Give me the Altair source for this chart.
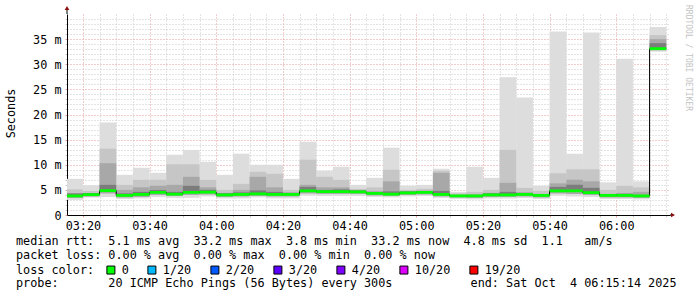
import altair as alt
import pandas as pd

MONO = "DejaVu Sans Mono"
FS = 11.8

# start of each 5-minute step, minutes after midnight (03:15 ... 06:10)
starts = [195, 200, 205, 210, 215, 220, 225, 230, 235, 240, 245, 250,
          255, 260, 265, 270, 275, 280, 285, 290, 295, 300, 305, 310,
          315, 320, 325, 330, 335, 340, 345, 350, 355, 360, 365, 370]
# median rtt per step (ms)
median = [3.8, 4.05, 4.85, 3.9, 4.1, 4.5, 4.15, 4.5, 4.55, 4.0, 4.1, 4.2,
          4.1, 4.1, 4.8, 4.65, 4.65, 4.6, 4.3, 4.15, 4.4, 4.5, 4.1, 3.8,
          3.8, 4.0, 4.0, 4.1, 3.9, 4.8, 4.8, 4.45, 3.9, 3.9, 3.8, 33.1]
# smoke extents (ms)
smoke_min = [3.0, 3.5, 3.6, 3.2, 3.3, 3.6, 3.4, 3.4, 3.7, 3.3, 3.3, 3.5,
             3.3, 3.3, 3.9, 3.8, 3.8, 3.8, 3.6, 3.5, 3.7, 3.8, 3.4, 3.2,
             3.1, 3.3, 3.3, 3.4, 3.2, 3.9, 3.7, 3.6, 3.2, 3.2, 3.1, 32.5]
smoke_l1 = [3.4, 3.7, 4.3, 3.5, 3.6, 4.0, 3.8, 4.0, 4.1, 3.6, 3.7, 3.8,
            3.7, 3.7, 4.3, 4.2, 4.2, 4.2, 3.9, 3.8, 4.0, 4.1, 3.7, 3.5,
            3.4, 3.6, 3.6, 3.7, 3.5, 4.3, 4.2, 4.0, 3.5, 3.5, 3.4, 32.8]
smoke_u0 = [4.3, 4.4, 6.0, 4.3, 4.6, 5.0, 4.6, 5.8, 5.0, 4.3, 4.5, 4.9,
            4.6, 4.4, 5.6, 5.0, 5.1, 4.9, 4.6, 4.7, 4.7, 4.8, 4.8, 4.0,
            4.0, 4.3, 4.6, 4.4, 4.1, 5.6, 6.0, 5.4, 4.1, 4.2, 4.0, 34.2]
smoke_u1 = [4.3, 4.3, 10.3, 5.0, 5.5, 5.8, 6.0, 7.6, 5.5, 4.4, 5.0, 7.6,
            5.5, 4.5, 6.0, 5.5, 5.5, 4.9, 4.7, 6.7, 4.7, 4.8, 8.4, 4.0,
            4.1, 4.4, 6.4, 4.5, 4.2, 6.3, 7.0, 6.7, 4.2, 4.4, 4.6, 35.0]
smoke_u2 = [5.1, 4.8, 13.2, 6.0, 7.0, 7.0, 10.1, 10.1, 7.0, 5.0, 6.2, 8.6,
            8.2, 5.0, 11.0, 7.6, 7.0, 5.2, 5.5, 9.0, 5.0, 5.2, 8.8, 4.3,
            4.6, 5.0, 12.95, 5.4, 4.8, 8.3, 9.1, 9.1, 5.0, 5.8, 5.5, 35.8]
smoke_max = [7.2, 5.9, 18.4, 8.0, 9.4, 8.4, 12.0, 12.95, 10.6, 8.0, 12.2, 10.0,
             10.0, 7.2, 14.6, 8.8, 9.6, 6.0, 7.4, 13.4, 5.8, 6.0, 9.2, 4.6,
             9.6, 7.4, 27.4, 23.4, 5.8, 36.5, 12.2, 36.3, 6.5, 31.1, 6.7, 37.4]

loss_labels = ["0", "1/20", "2/20", "3/20", "4/20", "10/20", "19/20"]
loss_colors = ["#00ff00", "#00b8ff", "#0059ff", "#5e00ff", "#7e00ff", "#dd00ff", "#ff0000"]

text_lines = [
    "median rtt:  5.1 ms avg  33.2 ms max  3.8 ms min  33.2 ms now  4.8 ms sd  1.1   am/s",
    "packet loss: 0.00 % avg  0.00 % max  0.00 % min  0.00 % now",
    "probe:       20 ICMP Echo Pings (56 Bytes) every 300s           end: Sat Oct  4 06:15:14 2025",
]

df = pd.DataFrame({
    "start": starts,
    "end": [s + 5 for s in starts],
    "median": median,
    "mn": smoke_min, "l1": smoke_l1, "u0": smoke_u0,
    "u1": smoke_u1, "u2": smoke_u2, "mx": smoke_max,
    "loss": ["0"] * len(starts),
})
df["mlo"] = df["median"] - 0.28
df["mhi"] = df["median"] + 0.28

line_df = pd.DataFrame({"start": starts + [starts[-1] + 5],
                        "median": median + [median[-1]]})

label_expr_x = ("datum.value % 20 == 0 ? ((floor(datum.value/60) < 10 ? '0' : '') + floor(datum.value/60)"
                " + ':' + (datum.value % 60 < 10 ? '0' : '') + (datum.value % 60)) : ''")

x_axis = alt.Axis(
    values=list(range(200, 380, 5)), labelExpr=label_expr_x, title=None,
    grid=True, gridDash=[1, 2],
    gridColor=alt.condition("datum.value % 20 == 0", alt.value("#e39a9a"), alt.value("#c8c8c8")),
    tickColor=alt.condition("datum.value % 20 == 0", alt.value("#e39a9a"), alt.value("#c8c8c8")),
    tickSize=2, labelFont=MONO, labelFontSize=FS, labelColor="black", labelPadding=3,
    labelOverlap=False, labelFlush=False, domainColor="black", domainWidth=1,
)
y_axis = alt.Axis(
    values=list(range(0, 40)),
    labelExpr="datum.value % 5 == 0 ? (datum.value == 0 ? '0' : datum.value + ' m') : ''",
    title="Seconds", titleFont=MONO, titleFontSize=FS, titleFontWeight="normal",
    titleColor="black", titleX=-57, titleY=99, titleAngle=-90,
    titleAlign="center", titleBaseline="middle",
    grid=True, gridDash=[1, 2],
    gridColor=alt.condition("datum.value % 5 == 0", alt.value("#e39a9a"), alt.value("#c8c8c8")),
    tickColor=alt.condition("datum.value % 5 == 0", alt.value("#e39a9a"), alt.value("#c8c8c8")),
    tickSize=2, labelFont=MONO, labelFontSize=FS, labelColor="black", labelPadding=4,
    labelOverlap=False, domainColor="black", domainWidth=1,
)
x_scale = alt.Scale(domain=[195.233, 376.13], nice=False, zero=False)
y_scale = alt.Scale(domain=[0, 40], nice=False)

base = alt.Chart(df)


def band(lo, hi, color):
    return base.mark_rect(color=color, clip=True).encode(
        x=alt.X("start:Q", scale=x_scale, axis=x_axis),
        x2="end:Q",
        y=alt.Y(f"{lo}:Q", scale=y_scale, axis=y_axis),
        y2=f"{hi}:Q",
    )


layers = [
    band("mn", "mx", "#dddddd"),
    band("l1", "u2", "#c6c6c6"),
    band("l1", "u1", "#a8a8a8"),
    band("median", "u0", "#7c7c7c"),
    alt.Chart(line_df).mark_line(interpolate="step-after", color="black", strokeWidth=1, clip=True).encode(
        x=alt.X("start:Q", scale=x_scale, axis=x_axis),
        y=alt.Y("median:Q", scale=y_scale, axis=y_axis),
    ),
    base.mark_rect(clip=True).encode(
        x=alt.X("start:Q", scale=x_scale, axis=x_axis),
        x2="end:Q",
        y=alt.Y("mlo:Q", scale=y_scale, axis=y_axis),
        y2="mhi:Q",
        color=alt.Color("loss:N", scale=alt.Scale(domain=loss_labels, range=loss_colors),
                        legend=alt.Legend(
                            title="loss color:", orient="none", legendX=-51, legendY=250,
                            direction="horizontal", titleOrient="left", symbolType="square",
                            symbolSize=64, symbolStrokeColor="black", symbolStrokeWidth=1,
                            symbolOpacity=1, labelOffset=5, columnPadding=16, titlePadding=10,
                            padding=0, labelFont=MONO, labelFontSize=FS, labelColor="black",
                            titleFont=MONO, titleFontSize=FS, titleFontWeight="normal",
                            titleColor="black", titleBaseline="middle")),
    ),
]

# axis arrows
layers.append(alt.Chart(df.head(1)).mark_rule(color="black").encode(
    x=alt.value(0), y=alt.value(-5), y2=alt.value(0)))
layers.append(alt.Chart(df.head(1)).mark_rule(color="black").encode(
    x=alt.value(603), x2=alt.value(606), y=alt.value(201)))
layers.append(alt.Chart(df.head(1)).mark_point(shape="triangle-up", filled=True, color="#8b1010",
                                               size=22, opacity=1).encode(
    x=alt.value(0), y=alt.value(-6)))
layers.append(alt.Chart(df.head(1)).mark_point(shape="triangle-right", filled=True, color="#8b1010",
                                               size=22, opacity=1).encode(
    x=alt.value(606), y=alt.value(201)))

# credit text
layers.append(alt.Chart(df.head(1)).mark_text(
    text="RRDTOOL / TOBI OETIKER", angle=90, align="left", baseline="middle",
    font=MONO, fontSize=8, color="#c4c4c4").encode(x=alt.value(621), y=alt.value(-9)))

# legend text lines
for txt, ypix in zip(text_lines, [227, 241, 269]):
    layers.append(alt.Chart(df.head(1)).mark_text(
        text=txt.replace(" ", "\u00a0"), align="left", baseline="middle",
        font=MONO, fontSize=FS, color="black").encode(x=alt.value(-51), y=alt.value(ypix)))

chart = alt.layer(*layers).properties(
    width=603, height=201,
    autosize=alt.AutoSizeParams(type="none"),
    padding={"left": 67, "top": 14, "right": 27, "bottom": 82},
    background="white",
).configure_view(stroke=None)

chart.save("out.html", embed_options={"renderer": "svg", "actions": False})
